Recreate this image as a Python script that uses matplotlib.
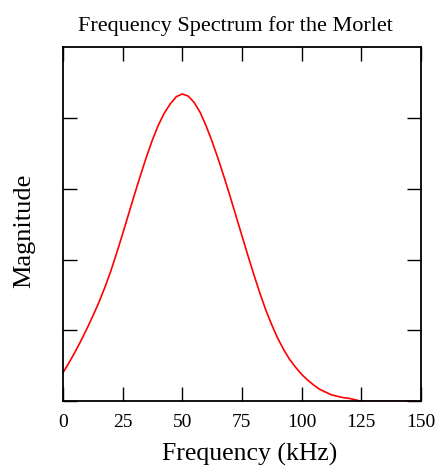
import numpy as np
import matplotlib.pyplot as plt

# 読み取ったスペクトル値 (2.5 kHz 間隔)
freq = np.arange(0, 150.1, 2.5)
mag = [0.40, 0.54, 0.69, 0.85, 1.02, 1.20, 1.39, 1.60, 1.83, 2.09,
       2.36, 2.64, 2.92, 3.19, 3.45, 3.69, 3.90, 4.07, 4.20, 4.30,
       4.34, 4.31, 4.22, 4.08, 3.89, 3.67, 3.43, 3.17, 2.90, 2.62,
       2.34, 2.06, 1.79, 1.53, 1.29, 1.08, 0.89, 0.73, 0.59, 0.48,
       0.38, 0.30, 0.23, 0.17, 0.13, 0.09, 0.07, 0.05, 0.04, 0.02,
       0.0, 0.0, 0.0, 0.0, 0.0, 0.0, 0.0, 0.0, 0.0, 0.0, 0.0]
xticks = [0, 25, 50, 75, 100, 125, 150]
yticks = [0, 1, 2, 3, 4]

plt.rcParams['font.family'] = ['Liberation Serif', 'DejaVu Serif']

fig = plt.figure(figsize=(4.43, 4.72), dpi=100)
ax = fig.add_axes([0.142, 0.150, 0.808, 0.750])

ax.plot(freq, mag, color='#ff0000', lw=1.2)

ax.set_xlim(0, 150)
ax.set_ylim(0, 5)
ax.set_xticks(xticks)
ax.set_yticks(yticks)
ax.tick_params(direction='in', length=10, width=1, top=True, right=True,
               labelleft=False, labelsize=14, pad=9)
for s in ax.spines.values():
    s.set_linewidth(1.3)

ax.set_title("Frequency Spectrum for the Morlet", fontsize=16, pad=12, x=0.483)
ax.set_xlabel("Frequency (kHz)", fontsize=18.5)
ax.set_ylabel("Magnitude", fontsize=19)
ax.xaxis.set_label_coords(0.522, -0.118)
ax.yaxis.set_label_coords(-0.076, 0.48)

fig.savefig("out.png", dpi=100)
